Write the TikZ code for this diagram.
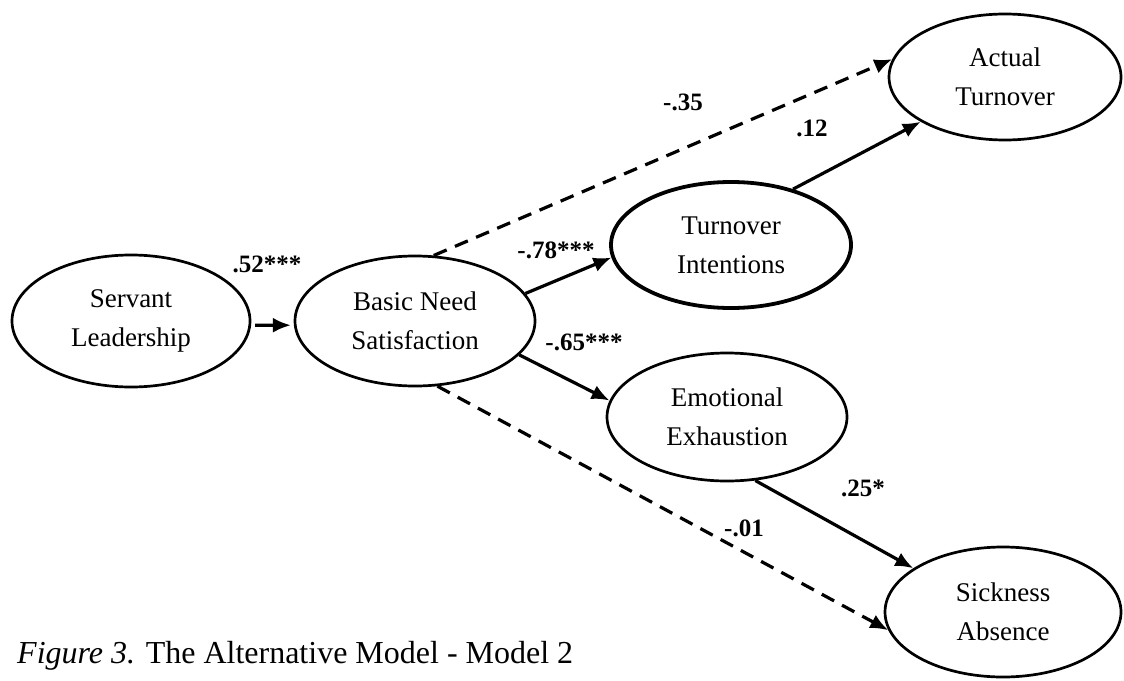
\documentclass[tikz,border=0pt]{standalone}
\usepackage{fontspec}
\setmainfont{Liberation Serif}
\usetikzlibrary{shapes.geometric,arrows.meta}

\begin{document}
\begin{tikzpicture}[x=1pt,y=-1pt,
    lat/.style={ellipse, draw, line width=2.7pt, inner sep=0pt, align=center,
        font=\fontsize{27}{39}\selectfont},
    link/.style={line width=3.2pt, -{Latex[length=18pt,width=15pt]}},
    dashlink/.style={link, dash pattern=on 14pt off 9pt},
    coef/.style={font=\fontsize{25}{25}\selectfont\bfseries}]
    \useasboundingbox (0,0) rectangle (1124,680);

    % Latent variables
    \node[lat, minimum width=238pt, minimum height=132pt] (sl) at (131,321) {Servant\\Leadership};
    \node[lat, minimum width=240pt, minimum height=130pt] (bns) at (415,321) {Basic Need\\Satisfaction};
    \node[lat, line width=3.8pt, minimum width=240pt, minimum height=126pt] (ti) at (731,245) {Turnover\\Intentions};
    \node[lat, minimum width=232pt, minimum height=126pt] (at) at (1005,77) {Actual\\Turnover};
    \node[lat, minimum width=240pt, minimum height=128pt] (ee) at (727,417) {Emotional\\Exhaustion};
    \node[lat, minimum width=236pt, minimum height=130pt] (sa) at (1003,612) {Sickness\\Absence};

    % Paths
    \draw[link, shorten <=4pt, shorten >=3pt] (sl.358) -- (bns.182);
    \draw[link] (bns.14) -- (ti.186);
    \draw[link] (bns.342) -- (ee.172);
    \draw[link] (ti.42) -- (at.208);
    \draw[link] (ee.294) -- (sa.154);
    \draw[dashlink] (bns.74) -- (at.171);
    \draw[dashlink] (bns.289) -- (sa.189);

    % Coefficients
    \node[coef] (c1) at (267,264) {.52***};
    \node[coef] (c2) at (556,250) {-.78***};
    \node[coef] (c3) at (584,342) {-.65***};
    \node[coef] (c4) at (683,102) {-.35};
    \node[coef] (c5) at (812,128) {.12};
    \node[coef] (c6) at (744,528) {-.01};
    \node[coef] (c7) at (863,488) {.25*};

    \node[anchor=base west, inner sep=0pt, font=\fontsize{32}{32}\selectfont] (cap) at (17,663)
        {\textit{Figure 3.} The Alternative Model - Model 2};
\end{tikzpicture}
\end{document}
